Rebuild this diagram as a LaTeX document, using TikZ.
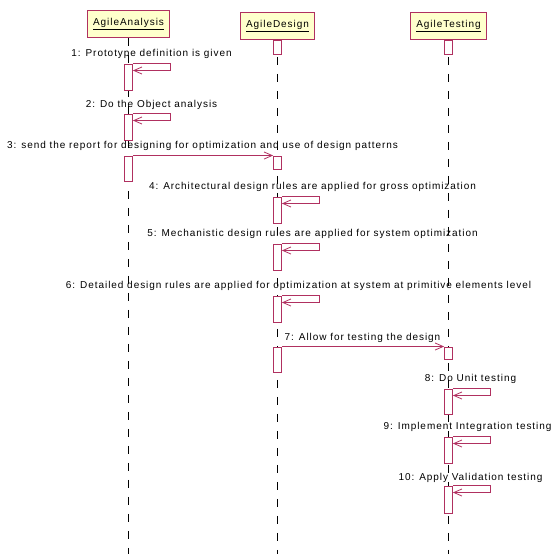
\documentclass[tikz,border=0pt]{standalone}
\usepackage{fontspec}
\setmainfont{Liberation Sans}[LetterSpace=9.5]
\usetikzlibrary{arrows.meta}
\definecolor{umlred}{RGB}{176,48,96}
\definecolor{umlyellow}{RGB}{255,255,204}

\begin{document}
\begin{tikzpicture}[x=1pt, y=-1pt,
  font=\fontsize{10}{12}\selectfont,
  obj/.style={draw=umlred, line width=0.9pt, fill=umlyellow, minimum height=27pt, inner xsep=5.5pt},
  act/.style={draw=umlred, line width=0.8pt, fill=white, minimum width=8pt, inner sep=0pt, anchor=north},
  msg/.style={draw=umlred, line width=0.8pt, -{Straight Barb[length=8pt,width=7pt]}},
  life/.style={draw=black, line width=0.7pt, dash pattern=on 8pt off 9pt},
  lbl/.style={inner sep=0pt}]

\useasboundingbox (0,0) rectangle (550,554);

%% 整体挪半个像素,线条落在像素中心
\begin{scope}[shift={(0.5,0.5)}]

%% 三个对象(y 轴向下)
\node[obj] (ana) at (128,23.5) {\underline{AgileAnalysis}};
\node[obj] (des) at (277,25.5) {\underline{AgileDesign}};
\node[obj] (tes) at (448,25.5) {\underline{AgileTesting}};

%% 生命线:一直画到底边
\coordinate (bot) at (0,554);
\foreach \o in {ana,des,tes}
  \draw[life] (\o.south) -- (\o.south |- bot);

%% 对象下方的短激活框
\node[act, minimum height=14pt] (d0) at (des.south) {};
\node[act, minimum height=14pt] (t0) at (tes.south) {};

%% 1, 2: AgileAnalysis 自调用
\node[act, minimum height=26pt] (a1) at (128,63) {};
\draw[msg] (a1.north east) -- ++(37,0) |- ([yshift=-7pt]a1.north east);
\node[lbl] (l1) at (151,53) {1: Prototype definition is given};

\node[act, minimum height=26pt] (a2) at (128,113) {};
\draw[msg] (a2.north east) -- ++(37,0) |- ([yshift=-7pt]a2.north east);
\node[lbl] (l2) at (151,104) {2: Do the Object analysis};

%% 3: AgileAnalysis --> AgileDesign
\node[act, minimum height=25pt] (a3) at (128,155) {};
\node[act, minimum height=13pt] (d3) at (277,155) {};
\draw[msg] (a3.north east) -- (d3.north west);
\node[lbl] (l3) at (202,145) {3: send the report for designing for optimization and use of design patterns};

%% 4, 5, 6: AgileDesign 自调用
\node[act, minimum height=26pt] (d4) at (277,196) {};
\draw[msg] (d4.north east) -- ++(37,0) |- ([yshift=-7pt]d4.north east);
\node[lbl] (l4) at (312,186) {4: Architectural design rules are applied for gross optimization};

\node[act, minimum height=26pt] (d5) at (277,243) {};
\draw[msg] (d5.north east) -- ++(37,0) |- ([yshift=-7pt]d5.north east);
\node[lbl] (l5) at (312,233) {5: Mechanistic design rules are applied for system optimization};

\node[act, minimum height=26pt] (d6) at (277,295) {};
\draw[msg] (d6.north east) -- ++(37,0) |- ([yshift=-7pt]d6.north east);
\node[lbl] (l6) at (298,285) {6: Detailed design rules are applied for optimization at system at primitive elements level};

%% 7: AgileDesign --> AgileTesting
\node[act, minimum height=25pt] (d7) at (277,346) {};
\node[act, minimum height=12pt] (t7) at (448,346) {};
\draw[msg] (d7.north east) -- (t7.north west);
\node[lbl] (l7) at (362,337) {7: Allow for testing the design};

%% 8, 9, 10: AgileTesting 自调用
\node[act, minimum height=25pt] (t8) at (448,388) {};
\draw[msg] (t8.north east) -- ++(37,0) |- ([yshift=-7pt]t8.north east);
\node[lbl] (l8) at (470,378) {8: Do Unit testing};

\node[act, minimum height=26pt] (t9) at (448,436) {};
\draw[msg] (t9.north east) -- ++(37,0) |- ([yshift=-7pt]t9.north east);
\node[lbl] (l9) at (467,426) {9: Implement Integration testing};

\node[act, minimum height=27pt] (t10) at (448,485) {};
\draw[msg] (t10.north east) -- ++(37,0) |- ([yshift=-7pt]t10.north east);
\node[lbl] (l10) at (470,477) {10: Apply Validation testing};

\end{scope}

\end{tikzpicture}
\end{document}
